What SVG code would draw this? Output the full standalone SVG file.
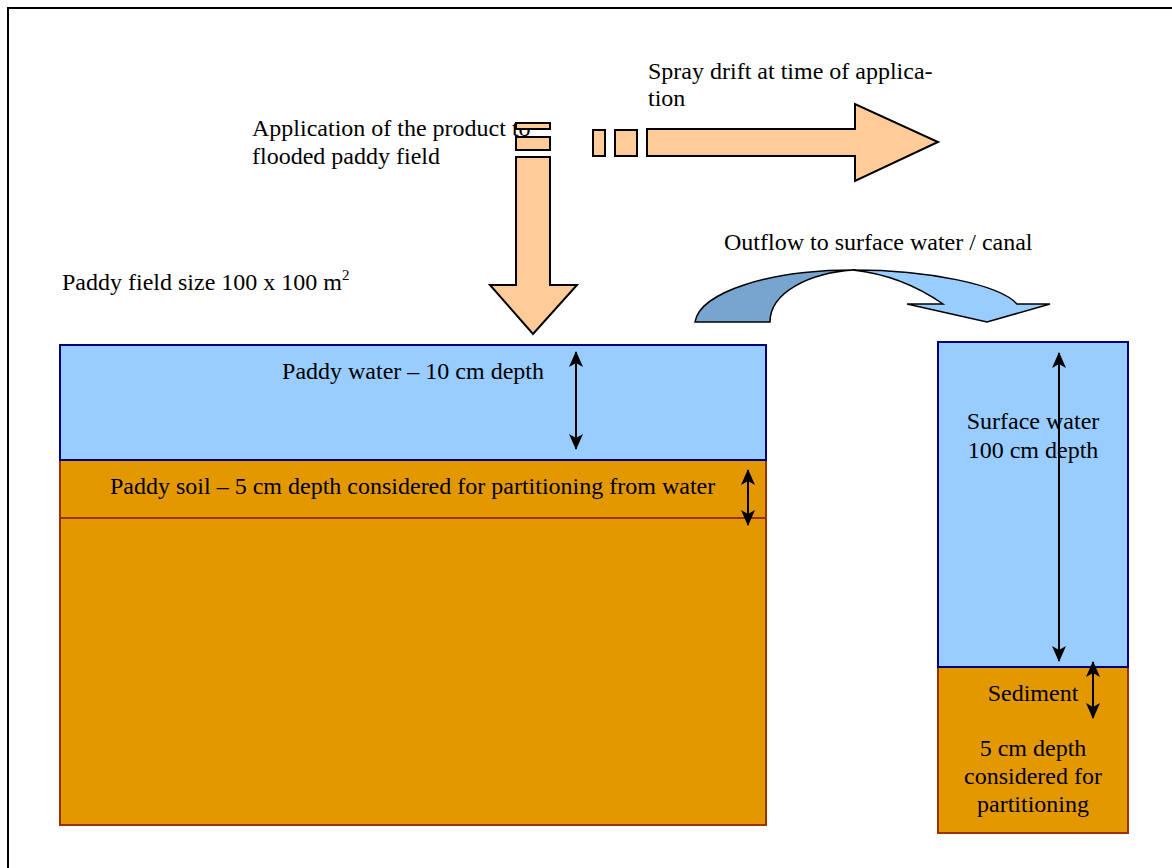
<svg xmlns="http://www.w3.org/2000/svg" width="1172" height="868" viewBox="0 0 1172 868">
  <defs>
    <style>
      .t { font-family: "Liberation Serif", "Times New Roman", serif; font-size: 24px; fill: #000; }
      .c { text-anchor: middle; }
      .peach { fill: #FFCC99; stroke: #000; stroke-width: 2; stroke-linejoin: miter; }
      .water { fill: #99CCFF; stroke: #000080; stroke-width: 2; }
      .soil { fill: #E39800; stroke: #993300; stroke-width: 2; }
      .dim { stroke: #000; stroke-width: 2; fill: none; marker-start: url(#ah); marker-end: url(#ah); }
    </style>
    <marker id="ah" viewBox="0 0 16 14" refX="15" refY="7" markerWidth="16" markerHeight="14" orient="auto-start-reverse" markerUnits="userSpaceOnUse">
      <path d="M0,0 L16,7 L0,14 L4,7 Z" fill="#000"/>
    </marker>
  </defs>

  <rect x="0" y="0" width="1172" height="868" fill="#fff"/>
  <!-- page frame -->
  <rect x="8" y="8" width="1200" height="900" fill="none" stroke="#000" stroke-width="2"/>

  <!-- application arrow (down) -->
  <g id="application">
    <text class="t" x="252" y="136">Application of the product to</text>
    <text class="t" x="252" y="164">flooded paddy field</text>
    <rect class="peach" x="516" y="123" width="34" height="6"/>
    <rect class="peach" x="516" y="137" width="34" height="13"/>
    <path class="peach" d="M516,157 L550,157 L550,285 L577,285 L533,334 L490,285 L516,285 Z"/>
  </g>

  <!-- spray drift arrow (right) -->
  <g id="spray-drift">
    <rect class="peach" x="593" y="130" width="12" height="26"/>
    <rect class="peach" x="615" y="130" width="22" height="26"/>
    <path class="peach" d="M647,129 L855,129 L855,104 L938,142 L855,181 L855,156 L647,156 Z"/>
    <text class="t" x="648" y="79">Spray drift at time of applica-</text>
    <text class="t" x="648" y="106">tion</text>
  </g>

  <!-- outflow curved arrow -->
  <g id="outflow">
    <path d="M853,270 C930,270 1000,285 1017,304 L1050,304 L987,322 L907,304 L943,304 C920,288 890,274 853,270 Z" fill="#99CCFF" stroke="#000" stroke-width="1.5"/>
    <path d="M695,322 C700,292 770,270 853,270 C810,273 770,292 770,322 Z" fill="#78A5CF" stroke="#000" stroke-width="1.5"/>
    <text class="t" x="724" y="250">Outflow to surface water / canal</text>
  </g>

  <!-- paddy field -->
  <g id="paddy-field">
    <text class="t" x="62" y="290">Paddy field size 100 x 100 m<tspan font-size="15" dy="-10">2</tspan></text>
    <rect class="soil" x="60" y="460" width="706" height="365"/>
    <line x1="60" y1="518" x2="766" y2="518" stroke="#993300" stroke-width="2"/>
    <rect class="water" x="60" y="345" width="706" height="115"/>
    <text class="t c" x="413" y="379">Paddy water – 10 cm depth</text>
    <text class="t" x="110" y="494">Paddy soil – 5 cm depth considered for partitioning from water</text>
  </g>

  <!-- surface water / sediment column -->
  <g id="surface-water">
    <rect class="soil" x="938" y="667" width="190" height="166"/>
    <rect class="water" x="938" y="342" width="190" height="325"/>
    <text class="t c" x="1033" y="429">Surface water</text>
    <text class="t c" x="1033" y="458">100 cm depth</text>
    <text class="t c" x="1033" y="701">Sediment</text>
    <text class="t c" x="1033" y="756">5 cm depth</text>
    <text class="t c" x="1033" y="784">considered for</text>
    <text class="t c" x="1033" y="812">partitioning</text>
  </g>

  <!-- depth dimension arrows -->
  <g id="dimensions">
    <line class="dim" x1="576" y1="352" x2="576" y2="449"/>
    <line class="dim" x1="748" y1="470" x2="748" y2="525"/>
    <line class="dim" x1="1059" y1="353" x2="1059" y2="661"/>
    <line class="dim" x1="1093" y1="662" x2="1093" y2="718"/>
  </g>
</svg>
